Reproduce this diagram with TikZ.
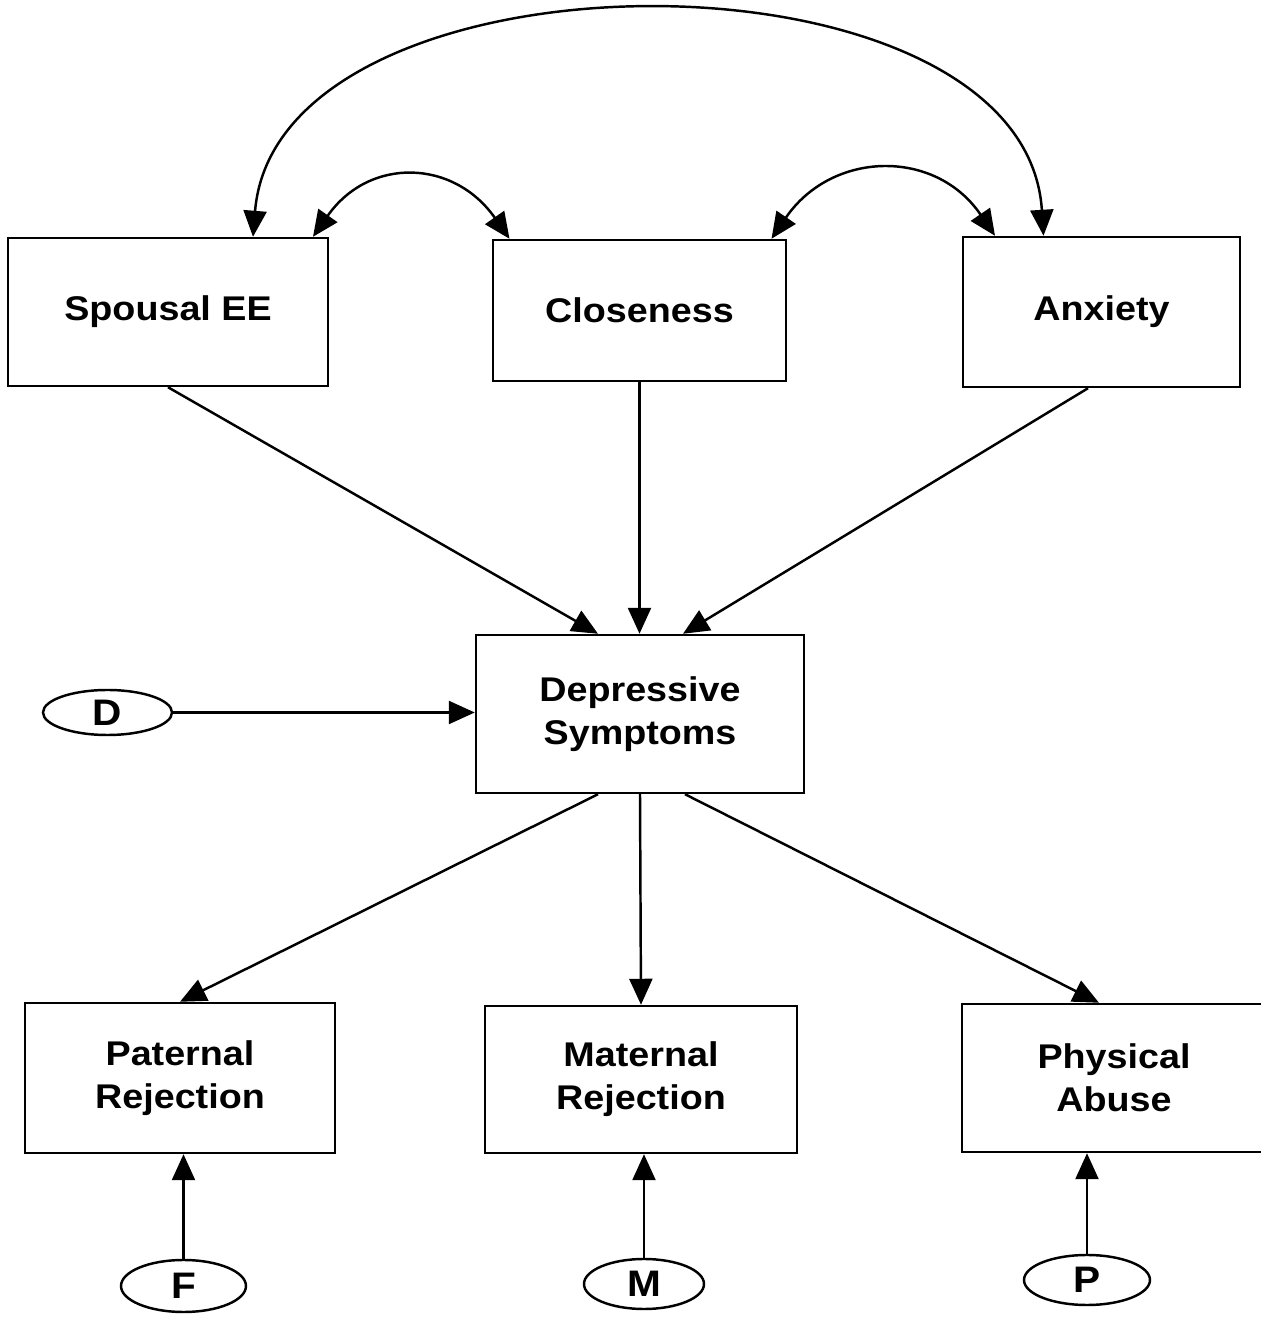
\documentclass[tikz,border=0pt]{standalone}
\usepackage{fontspec}
\setmainfont{Liberation Sans}[FakeStretch=1.1]
\usetikzlibrary{arrows.meta}
\usetikzlibrary{shapes.geometric}

\tikzset{
  box/.style={draw=black, line width=1.4pt, inner sep=0pt, align=center,
    font=\bfseries\fontsize{19.5}{24.4}\selectfont},
  err/.style={draw=black, ellipse, line width=1.4pt, inner sep=0pt,
    font=\bfseries\fontsize{21}{22}\selectfont},
  arr/.style={line width=1.4pt, -{Triangle[length=5.2mm,width=4.6mm]}},
  dbl/.style={line width=1.4pt, {Triangle[length=5.2mm,width=4.6mm]}-{Triangle[length=5.2mm,width=4.6mm]}}
}

\begin{document}
\begin{tikzpicture}
    \useasboundingbox (0,0) rectangle (25.22,26.34);

    \node[box, minimum width=6.4cm, minimum height=2.96cm] (se) at (3.36,20.10) {Spousal EE};
    \node[box, minimum width=5.86cm, minimum height=2.82cm] (clo) at (12.79,20.13) {Closeness};
    \node[box, minimum width=5.54cm, minimum height=3.0cm] (anx) at (22.03,20.10) {Anxiety};
    \node[box, minimum width=6.56cm, minimum height=3.16cm] (ds) at (12.80,12.06) {Depressive\\Symptoms};
    \node[box, minimum width=6.2cm, minimum height=3.0cm] (pat) at (3.60,4.78) {Paternal\\Rejection};
    \node[box, minimum width=6.24cm, minimum height=2.94cm] (mat) at (12.82,4.75) {Maternal\\Rejection};
    \node[box, minimum width=6.08cm, minimum height=2.96cm] (phy) at (22.28,4.78) {Physical\\Abuse};

    \node[err, minimum width=2.58cm, minimum height=0.9cm] (d) at (2.15,12.09) {D};
    \node[err, minimum width=2.5cm, minimum height=1.04cm] (f) at (3.67,0.62) {F};
    \node[err, minimum width=2.4cm, minimum height=1.0cm] (m) at (12.88,0.66) {M};
    \node[err, minimum width=2.52cm, minimum height=1.0cm] (p) at (21.74,0.74) {P};

    \draw[dbl] ([xshift=1.7cm]se.north) .. controls +(0.48,5.95) and +(-0.38,5.99) .. ([xshift=-1.16cm]anx.north);
    \draw[dbl] ([xshift=2.9cm]se.north) .. controls +(1.12,1.6) and +(-1.12,1.6) .. ([xshift=-2.6cm]clo.north);
    \draw[dbl] ([xshift=2.64cm]clo.north) .. controls +(1.2,1.76) and +(-1.2,1.76) .. ([xshift=-2.13cm]anx.north);

    \draw[arr] (se.south) -- ([xshift=-0.84cm]ds.north);
    \draw[arr] (clo.south) -- (clo.south |- ds.north);
    \draw[arr] ([xshift=-0.27cm]anx.south) -- ([xshift=0.86cm]ds.north);
    \draw[arr] (d.east) -- (d.east -| ds.west);

    \draw[arr] ([xshift=-0.84cm]ds.south) -- (pat.north);
    \draw[arr] (ds.south) -- (mat.north);
    \draw[arr] ([xshift=0.9cm]ds.south) -- ([xshift=-0.3cm]phy.north);

    \draw[arr] (f.north) -- (f.north |- pat.south);
    \draw[arr] (m.north) -- (m.north |- mat.south);
    \draw[arr] (p.north) -- (p.north |- phy.south);
\end{tikzpicture}
\end{document}
